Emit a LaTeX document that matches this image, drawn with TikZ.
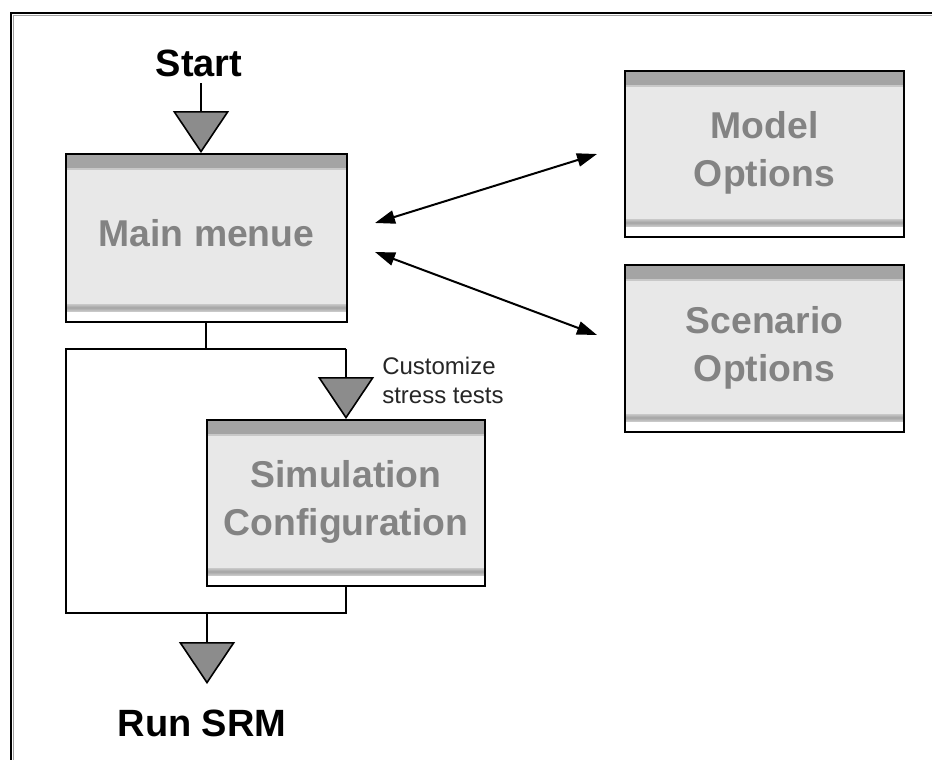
\documentclass[tikz,border=0pt]{standalone}
\usepackage{fontspec}
\setmainfont{Liberation Sans}
\usetikzlibrary{arrows.meta,calc}
\definecolor{boxfill}{HTML}{E8E8E8}
\definecolor{band}{HTML}{A4A4A4}
\definecolor{bandlight}{HTML}{C8C8C8}
\definecolor{txtgray}{HTML}{838383}
\definecolor{trifill}{HTML}{8C8C8C}
\definecolor{framegray}{HTML}{A0A0A0}
\tikzset{
  fbox/.style={draw=black, line width=1.4pt, fill=boxfill, inner sep=0pt,
    path picture={
      \fill[band] (path picture bounding box.north west) rectangle ([yshift=-10.5pt]path picture bounding box.north east);
      \fill[bandlight] ([yshift=-10.5pt]path picture bounding box.north west) rectangle ([yshift=-12pt]path picture bounding box.north east);
      \fill[white] (path picture bounding box.south west) rectangle ([yshift=8.25pt]path picture bounding box.south east);
      \shade[top color=bandlight, bottom color=bandlight, middle color=band] ([yshift=8.25pt]path picture bounding box.south west) rectangle ([yshift=13.5pt]path picture bounding box.south east);
    }},
  boxtxt/.style={text=txtgray, font=\fontsize{28}{36}\selectfont\bfseries, align=center, yshift=3.75pt},
  boxtxttwo/.style={boxtxt, yshift=-3pt},
  bigtxt/.style={text=black, font=\fontsize{28.5}{34}\selectfont\bfseries, inner sep=0pt},
  smalltxt/.style={text=black!85, font=\fontsize{18}{21.75}\selectfont, inner sep=0pt},
  conn/.style={draw=black, line width=1.2pt},
  tri/.style={conn, -{Triangle[length=31.5pt,width=42pt,fill=trifill]}},
  dbl/.style={draw=black, line width=1.5pt, {Triangle[length=15pt,width=10pt]}-{Triangle[length=15pt,width=10pt]}},
}
\begin{document}
\begin{tikzpicture}[x=0.75pt,y=-0.75pt]
\useasboundingbox (0,0) rectangle (932,760);
\fill[white] (0,0) rectangle (932,760);
% frame
\draw[framegray, line width=0.9pt] (13.5,760) -- (13.5,15.5) -- (932,15.5);
\draw[black, line width=1.5pt] (11,760) -- (11,13) -- (932,13);

% boxes
\node[fbox, minimum width=210.75pt, minimum height=126pt,
      label={[boxtxt]center:Main menue}] (main) at (206.5,238) {};
\node[fbox, minimum width=209.25pt, minimum height=124.5pt,
      label={[boxtxttwo]center:Model\\Options}] (model) at (764.5,154) {};
\node[fbox, minimum width=209.25pt, minimum height=125.25pt,
      label={[boxtxttwo]center:Scenario\\Options}] (scen) at (764.5,348.5) {};
\node[fbox, minimum width=208.5pt, minimum height=124.5pt,
      label={[boxtxttwo]center:Simulation\\Configuration}] (sim) at (346,503) {};

% texts
\node[bigtxt] (start) at (199,63) {Start};
\node[bigtxt] (run) at (202,723) {Run SRM};
\node[smalltxt, anchor=base west, align=left] (cust) at (382,403) {Customize\\stress tests};

% coordinates
\coordinate (s1) at (201,83);
\coordinate (sj) at (206,349);
\coordinate (lt) at (66,349);
\coordinate (rt) at (346,349);
\coordinate (lb) at (66,613);
\coordinate (rb) at (346,613);
\coordinate (mj) at (207,613);
\coordinate (runtip) at (207,684);
\coordinate (a1) at (375,223);
\coordinate (a2) at (597,154);
\coordinate (b1) at (375,252);
\coordinate (b2) at (597,335);

% connectors
\draw[tri] (s1) -- (main.north -| s1);
\draw[conn] (main.south -| sj) -- (sj);
\draw[conn] (rt) -- (lt) -- (lb) -- (rb) -- (sim.south);
\draw[tri] (rt) -- (sim.north);
\draw[tri] (mj) -- (runtip);
\draw[dbl] (a1) -- (a2);
\draw[dbl] (b1) -- (b2);
\end{tikzpicture}
\end{document}
